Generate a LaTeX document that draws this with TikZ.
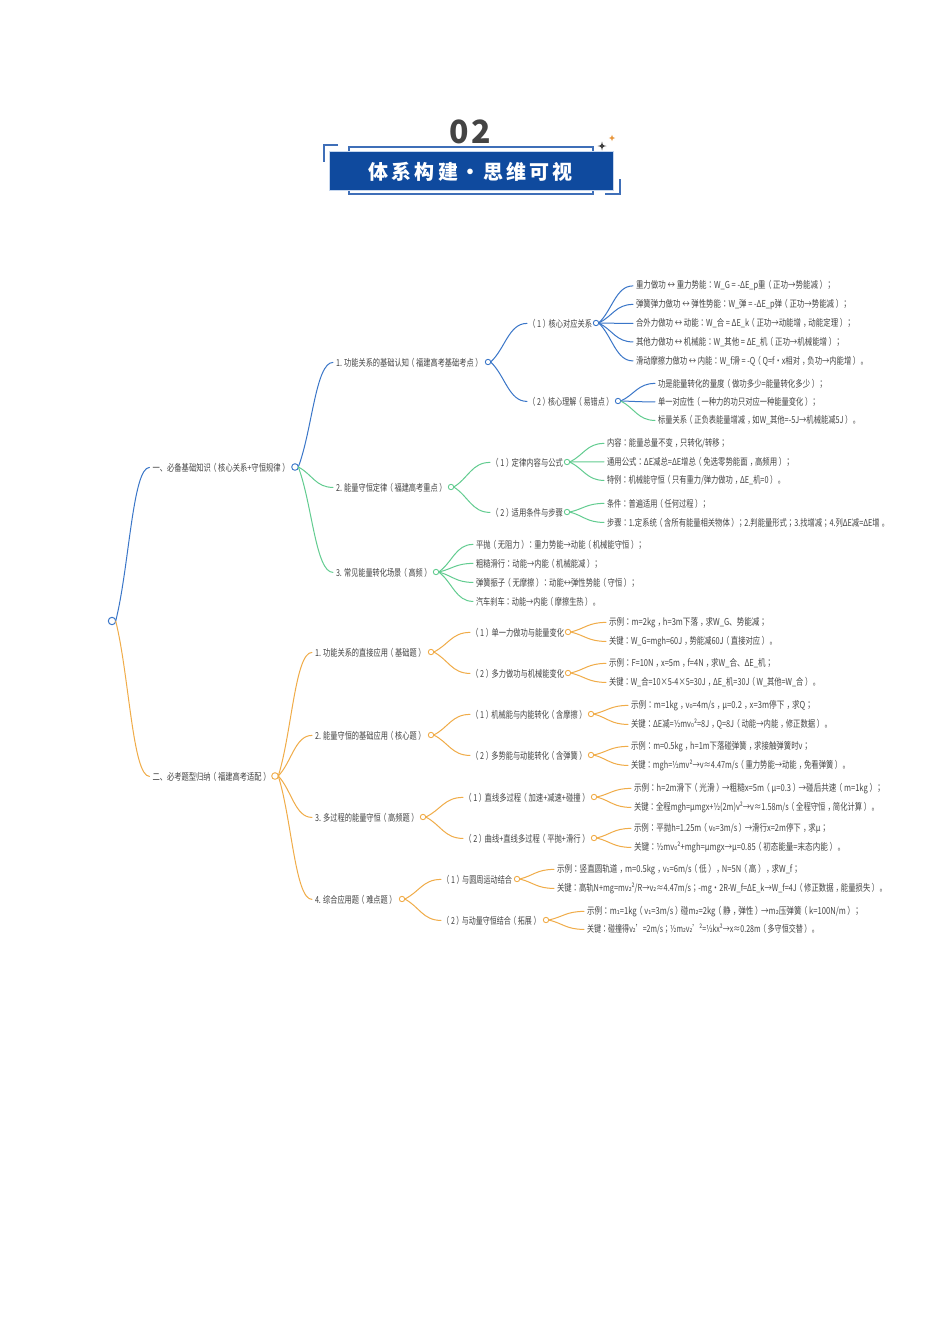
\documentclass[tikz,border=0pt]{standalone}
\usepackage{graphicx}
\usepackage{fontspec}
\setmainfont{Noto Sans CJK SC}
\newfontfamily\tcfont{Noto Sans CJK TC}
\newfontfamily\subfont{DejaVu Sans}
\newcommand{\sbz}{{\subfont ₀}}
\newcommand{\sbo}{{\subfont ₁}}
\newcommand{\sbt}{{\subfont ₂}}
% full-width punctuation sits in the middle of its cell, as in the reference
\catcode`：=\active \protected\def：{{\tcfont\char"FF1A\relax}}
\catcode`；=\active \protected\def；{{\tcfont\char"FF1B\relax}}
\catcode`（=\active \protected\def（{\kern-.22em\char"FF08\relax\kern.22em}
\catcode`）=\active \protected\def）{\kern.22em\char"FF09\relax\kern-.22em}
\catcode`，=\active \protected\def，{\kern.28em\char"FF0C\relax\kern-.28em}
\catcode`。=\active \protected\def。{\kern.28em\char"3002\relax\kern-.28em}
\usetikzlibrary{calc}
\definecolor{cblue}{HTML}{3A76C8}
\definecolor{cgreen}{HTML}{62CC90}
\definecolor{corange}{HTML}{F0AC48}
\definecolor{ctext}{HTML}{444444}
\definecolor{cbanner}{HTML}{0F4A9E}
\definecolor{cframe}{HTML}{3F6FB8}
\definecolor{cpale}{HTML}{C5D6EE}
\definecolor{cstar}{HTML}{E8963C}
\tikzset{
  lab/.style={anchor=west,inner xsep=3pt,inner ysep=0pt,outer sep=0pt,text=ctext,font=\fontsize{9.6}{11}\selectfont},
  dot/.style={circle,fill=white,line width=.9pt,inner sep=0pt,minimum size=5.4pt,outer sep=0pt},
  bigdot/.style={dot,minimum size=6.6pt},
  link/.style={line width=1pt,line cap=round},
  bracket/.style={cframe,line width=1.1pt},
}
% name, left x, y, right x, text
\newcommand{\tn}[5]{\node[lab] (#1) at (#2-3,#3+.4) {\resizebox{\dimexpr #4pt-#2pt\relax}{\height}{#5}};}
\newcommand{\cn}[3]{\draw[link,#1] let \p1=(#2.east),\p2=(#3.west),\n1={\x2-\x1},\n2={\y2-\y1} in (\p1) .. controls ({\x1+.4*\n1},{\y1+.35*\n2}) and ({\x1+.5*\n1},\y2) .. (\p2);}
\newcommand{\starshape}[4]{\fill[#4] (#1,#2-#3) .. controls (#1+.18*#3,#2-.18*#3) .. (#1+#3,#2) .. controls (#1+.18*#3,#2+.18*#3) .. (#1,#2+#3) .. controls (#1-.18*#3,#2+.18*#3) .. (#1-#3,#2) .. controls (#1-.18*#3,#2-.18*#3) .. cycle;}
\begin{document}
\begin{tikzpicture}[x=1pt,y=-1pt]
\useasboundingbox (0,0) rectangle (950,1344);
\fill[white] (0,0) rectangle (950,1344);
% ---- title
\node[inner sep=0pt,text=ctext] (num) at (470.5,132) {\bfseries\fontsize{32}{34}\selectfont 0\kern2.5pt 2};
\draw[bracket] (338,145) -- (324,145) -- (324,162);
\draw[bracket] (620,179) -- (620,194) -- (605,194);
\draw[bracket] (349,151) -- (349,147) -- (593,147) -- (593,151);
\draw[bracket] (349,190) -- (349,194) -- (593,194) -- (593,190);
\node[draw=cpale,line width=.6pt,fill=cbanner,minimum width=284pt,minimum height=39pt,inner sep=0pt] (banner) at (471,170.5) {};
\node[inner sep=0pt,text=white] (bannertext) at (470.5,172) {\bfseries\fontsize{20}{22}\selectfont 体\kern3.3pt 系\kern3.3pt 构\kern3.3pt 建\makebox[25pt]{·}思\kern3.3pt 维\kern3.3pt 可\kern3.3pt 视};
\starshape{602}{146}{4.5}{black!75}
\starshape{612}{138}{3.2}{cstar}
% ---- root and main branches
\node[bigdot,draw=cblue,minimum size=7.4pt,line width=1pt] (root) at (112,621) {};
\tn{a}{152.5}{467}{288}{一、必备基础知识（核心关系+守恒规律）}
\node[bigdot,draw=cblue] (ad) at (295,467) {};
\tn{b}{152.5}{776}{269}{二、必考题型归纳（福建高考适配）}
\node[bigdot,draw=corange] (bd) at (275,776) {};
% ---- blue
\tn{a1}{336}{362}{481}{1. 功能关系的基础认知（福建高考基础考点）}
\node[dot,draw=cblue] (a1d) at (488,362) {};
\tn{a11}{530}{323}{592}{（1）核心对应关系}
\node[dot,draw=cblue] (a11d) at (596,323) {};
\tn{a12}{530}{401}{612}{（2）核心理解（易错点）}
\node[dot,draw=cblue] (a12d) at (618,401) {};
\tn{l1}{636}{285.5}{833}{重力做功 ↔ 重力势能：W\_G = -ΔE\_p重（正功→势能减）；}
\tn{l2}{636}{304}{849}{弹簧弹力做功 ↔ 弹性势能：W\_弹 = -ΔE\_p弹（正功→势能减）；}
\tn{l3}{636}{323}{853}{合外力做功 ↔ 动能：W\_合 = ΔE\_k（正功→动能增，动能定理）；}
\tn{l4}{636}{341.5}{842}{其他力做功 ↔ 机械能：W\_其他 = ΔE\_机（正功→机械能增）；}
\tn{l5}{636}{360.5}{866}{滑动摩擦力做功 ↔ 内能：W\_f滑 = -Q（Q=f·x相对，负功→内能增）。}
\tn{l6}{658}{383}{825}{功是能量转化的量度（做功多少=能量转化多少）；}
\tn{l7}{658}{401.5}{818}{单一对应性（一种力的功只对应一种能量变化）；}
\tn{l8}{658}{420}{858}{标量关系（正负表能量增减，如W\_其他=-5J→机械能减5J）。}
% ---- green
\tn{a2}{336}{487}{445}{2. 能量守恒定律（福建高考重点）}
\node[dot,draw=cgreen] (a2d) at (451,487) {};
\tn{a3}{336}{572}{430}{3. 常见能量转化场景（高频）}
\node[dot,draw=cgreen] (a3d) at (436,572) {};
\tn{a21}{493}{462}{563}{（1）定律内容与公式}
\node[dot,draw=cgreen] (a21d) at (567,462) {};
\tn{a22}{493}{512}{563}{（2）适用条件与步骤}
\node[dot,draw=cgreen] (a22d) at (567,512) {};
\tn{g1}{607}{443}{727}{内容：能量总量不变，只转化/转移；}
\tn{g2}{607}{461.5}{792}{通用公式：ΔE减总=ΔE增总（免选零势能面，高频用）；}
\tn{g3}{607}{480}{783}{特例：机械能守恒（只有重力/弹力做功，ΔE\_机=0）。}
\tn{g4}{607}{503}{708}{条件：普遍适用（任何过程）；}
\tn{g5}{607}{522}{887}{步骤：1.定系统（含所有能量相关物体）；2.判能量形式；3.找增减；4.列ΔE减=ΔE增。}
\tn{g6}{476}{544}{644}{平抛（无阻力）：重力势能→动能（机械能守恒）；}
\tn{g7}{476}{563}{600}{粗糙滑行：动能→内能（机械能减）；}
\tn{g8}{476}{582}{637}{弹簧振子（无摩擦）：动能↔弹性势能（守恒）；}
\tn{g9}{476}{601}{598}{汽车刹车：动能→内能（摩擦生热）。}
% ---- orange
\tn{b1}{315}{652}{424}{1. 功能关系的直接应用（基础题）}
\node[dot,draw=corange] (b1d) at (431,652) {};
\tn{b2}{315}{735}{424}{2. 能量守恒的基础应用（核心题）}
\node[dot,draw=corange] (b2d) at (431,735) {};
\tn{b3}{315}{817}{417}{3. 多过程的能量守恒（高频题）}
\node[dot,draw=corange] (b3d) at (423,817) {};
\tn{b4}{315}{899}{395}{4. 综合应用题（难点题）}
\node[dot,draw=corange] (b4d) at (402,899) {};
\tn{b11}{473}{632}{564}{（1）单一力做功与能量变化}
\node[dot,draw=corange] (b11d) at (568,632) {};
\tn{b12}{473}{673}{564}{（2）多力做功与机械能变化}
\node[dot,draw=corange] (b12d) at (568,673) {};
\tn{b21}{473}{714}{585}{（1）机械能与内能转化（含摩擦）}
\node[dot,draw=corange] (b21d) at (591,714) {};
\tn{b22}{473}{755}{585}{（2）多势能与动能转化（含弹簧）}
\node[dot,draw=corange] (b22d) at (591,755) {};
\tn{b31}{466}{797}{588}{（1）直线多过程（加速+减速+碰撞）}
\node[dot,draw=corange] (b31d) at (594,797) {};
\tn{b32}{466}{838}{588}{（2）曲线+直线多过程（平抛+滑行）}
\node[dot,draw=corange] (b32d) at (594,838) {};
\tn{b41}{444}{879}{512}{（1）与圆周运动结合}
\node[dot,draw=corange] (b41d) at (517,879) {};
\tn{b42}{444}{920}{539}{（2）与动量守恒结合（拓展）}
\node[dot,draw=corange] (b42d) at (546,920) {};
\tn{o1}{609}{622}{767}{示例：m=2kg，h=3m下落，求W\_G、势能减；}
\tn{o2}{609}{641}{775}{关键：W\_G=mgh=60J，势能减60J（直接对应）。}
\tn{o3}{609}{663}{773}{示例：F=10N，x=5m，f=4N，求W\_合、ΔE\_机；}
\tn{o4}{609}{682}{818}{关键：W\_合=10×5-4×5=30J，ΔE\_机=30J（W\_其他=W\_合）。}
\tn{o5}{631}{705}{813}{示例：m=1kg，v\sbz{}=4m/s，μ=0.2，x=3m停下，求Q；}
\tn{o6}{631}{724}{830}{关键：ΔE减=½mv\sbz{}²=8J，Q=8J（动能→内能，修正数据）。}
\tn{o7}{631}{746}{810}{示例：m=0.5kg，h=1m下落碰弹簧，求接触弹簧时v；}
\tn{o8}{631}{765}{848}{关键：mgh=½mv²→v≈4.47m/s（重力势能→动能，免看弹簧）。}
\tn{o9}{634}{788}{883}{示例：h=2m滑下（光滑）→粗糙x=5m（μ=0.3）→碰后共速（m=1kg）；}
\tn{o10}{634}{807}{877}{关键：全程mgh=μmgx+½(2m)v²→v≈1.58m/s（全程守恒，简化计算）。}
\tn{o11}{634}{828}{828}{示例：平抛h=1.25m（v\sbz{}=3m/s）→滑行x=2m停下，求μ；}
\tn{o12}{634}{847}{843}{关键：½mv\sbz{}²+mgh=μmgx→μ=0.85（初态能量=末态内能）。}
\tn{o13}{557}{869}{800}{示例：竖直圆轨道，m=0.5kg，v\sbo{}=6m/s（低），N=5N（高），求W\_f；}
\tn{o14}{557}{888}{885}{关键：高轨N+mg=mv\sbt{}²/R→v\sbt{}≈4.47m/s；-mg·2R-W\_f=ΔE\_k→W\_f=4J（修正数据，能量损失）。}
\tn{o15}{587}{911}{861}{示例：m\sbo{}=1kg（v\sbo{}=3m/s）碰m\sbt{}=2kg（静，弹性）→m\sbt{}压弹簧（k=100N/m）；}
\tn{o16}{587}{929}{817}{关键：碰撞得v\sbt{}'=2m/s；½m\sbt{}v\sbt{}'²=½kx²→x≈0.28m（多守恒交替）。}
% ---- connectors
\cn{cblue}{root}{a}
\cn{corange}{root}{b}
\cn{cblue}{ad}{a1}
\cn{cgreen}{ad}{a2}
\cn{cgreen}{ad}{a3}
\cn{cblue}{a1d}{a11}
\cn{cblue}{a1d}{a12}
\cn{cblue}{a11d}{l1}
\cn{cblue}{a11d}{l2}
\cn{cblue}{a11d}{l3}
\cn{cblue}{a11d}{l4}
\cn{cblue}{a11d}{l5}
\cn{cblue}{a12d}{l6}
\cn{cblue}{a12d}{l7}
\cn{cgreen}{a12d}{l8}
\cn{cgreen}{a2d}{a21}
\cn{cgreen}{a2d}{a22}
\cn{cgreen}{a21d}{g1}
\cn{cgreen}{a21d}{g2}
\cn{cgreen}{a21d}{g3}
\cn{cgreen}{a22d}{g4}
\cn{cgreen}{a22d}{g5}
\cn{cgreen}{a3d}{g6}
\cn{cgreen}{a3d}{g7}
\cn{cgreen}{a3d}{g8}
\cn{cgreen}{a3d}{g9}
\cn{corange}{bd}{b1}
\cn{corange}{bd}{b2}
\cn{corange}{bd}{b3}
\cn{corange}{bd}{b4}
\cn{corange}{b1d}{b11}
\cn{corange}{b1d}{b12}
\cn{corange}{b2d}{b21}
\cn{corange}{b2d}{b22}
\cn{corange}{b3d}{b31}
\cn{corange}{b3d}{b32}
\cn{corange}{b4d}{b41}
\cn{corange}{b4d}{b42}
\cn{corange}{b11d}{o1}
\cn{corange}{b11d}{o2}
\cn{corange}{b12d}{o3}
\cn{corange}{b12d}{o4}
\cn{corange}{b21d}{o5}
\cn{corange}{b21d}{o6}
\cn{corange}{b22d}{o7}
\cn{corange}{b22d}{o8}
\cn{corange}{b31d}{o9}
\cn{corange}{b31d}{o10}
\cn{corange}{b32d}{o11}
\cn{corange}{b32d}{o12}
\cn{corange}{b41d}{o13}
\cn{corange}{b41d}{o14}
\cn{corange}{b42d}{o15}
\cn{corange}{b42d}{o16}
\end{tikzpicture}
\end{document}
